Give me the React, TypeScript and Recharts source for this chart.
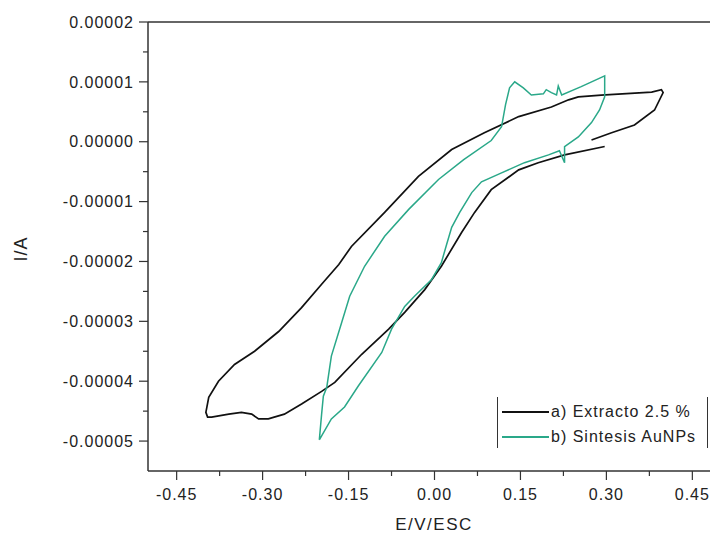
import { LineChart, Line, XAxis, YAxis, ReferenceLine } from "recharts";

// potential (V vs SCE) and current (in units of 1e-5 A), traced in scan order
const extractoE = [
  0.297, 0.227, 0.181, 0.147, 0.099, 0.07, 0.047, 0.012, -0.017, -0.052, -0.08, -0.127, -0.174, -0.197,
  -0.232, -0.262, -0.29, -0.307, -0.319, -0.337, -0.359, -0.389, -0.396, -0.399, -0.394, -0.377, -0.349,
  -0.314, -0.272, -0.232, -0.197, -0.167, -0.145, -0.087, -0.028, 0.03, 0.087, 0.147, 0.204, 0.234, 0.251,
  0.291, 0.379, 0.396, 0.399, 0.384, 0.349, 0.309, 0.274,
];
const extractoI = [
  -0.08, -0.22, -0.35, -0.47, -0.8, -1.18, -1.52, -2.08, -2.47, -2.85, -3.13, -3.55, -4.02, -4.17, -4.38,
  -4.55, -4.63, -4.63, -4.55, -4.52, -4.55, -4.6, -4.6, -4.52, -4.27, -4.0, -3.72, -3.5, -3.17, -2.77, -2.38,
  -2.05, -1.75, -1.18, -0.58, -0.13, 0.15, 0.42, 0.58, 0.7, 0.75, 0.78, 0.83, 0.87, 0.82, 0.53, 0.28, 0.15,
  0.03,
];

const aunpsE = [
  -0.201, -0.197, -0.194, -0.188, -0.18, -0.162, -0.148, -0.122, -0.087, -0.045, 0.007, 0.051, 0.099, 0.117,
  0.124, 0.131, 0.14, 0.155, 0.169, 0.19, 0.195, 0.204, 0.213, 0.216, 0.222, 0.256, 0.297, 0.297, 0.288,
  0.274, 0.251, 0.227, 0.227, 0.218, 0.199, 0.157, 0.117, 0.082, 0.065, 0.044, 0.03, 0.021, 0.012, -0.005,
  -0.035, -0.052, -0.075, -0.092, -0.133, -0.157, -0.18, -0.201,
];
const aunpsI = [
  -4.98, -4.55, -4.25, -4.1, -3.58, -3.02, -2.58, -2.08, -1.58, -1.13, -0.63, -0.3, 0.02, 0.25, 0.62, 0.9,
  1.0, 0.9, 0.78, 0.8, 0.87, 0.82, 0.78, 0.93, 0.78, 0.92, 1.1, 0.75, 0.53, 0.32, 0.08, -0.08, -0.35, -0.15,
  -0.22, -0.35, -0.52, -0.67, -0.85, -1.18, -1.43, -1.72, -2.02, -2.3, -2.58, -2.75, -3.13, -3.52, -4.08,
  -4.43, -4.63, -4.98,
];

const xMajorTicks = [-0.45, -0.3, -0.15, 0, 0.15, 0.3, 0.45];
const xMinorTicks = [-0.375, -0.225, -0.075, 0.075, 0.225, 0.375];
const yMajorTicks = [2e-5, 1e-5, 0, -1e-5, -2e-5, -3e-5, -4e-5, -5e-5];
const yMinorTicks = [1.5e-5, 0.5e-5, -0.5e-5, -1.5e-5, -2.5e-5, -3.5e-5, -4.5e-5];

const seriesNames = ["a) Extracto 2.5 %", "b) Sintesis AuNPs"];
const seriesColors = ["#111111", "#2aa889"];

const extractoData = extractoE.map((e, k) => ({ e, i: extractoI[k] * 1e-5 }));
const aunpsData = aunpsE.map((e, k) => ({ e, i: aunpsI[k] * 1e-5 }));

const FONT = "'Liberation Sans', Arial, sans-serif";
const AXIS = "#333";

const isMajor = (v: number, list: number[]) => list.some((m) => Math.abs(m - v) < 1e-9);

const XTick = (props: any) => {
  const { x, y, payload } = props;
  const major = isMajor(payload.value, xMajorTicks);
  return (
    <g>
      <line x1={x} x2={x} y1={y} y2={y + (major ? 9 : 5)} stroke={AXIS} strokeWidth={1.2} />
      {major && (
        <text x={x} y={y + 23} dy="0.36em" textAnchor="middle" fontFamily={FONT} fontSize={16} fill="#222" letterSpacing={1}>
          {payload.value.toFixed(2)}
        </text>
      )}
    </g>
  );
};

const YTick = (props: any) => {
  const { x, y, payload } = props;
  const major = isMajor(payload.value, yMajorTicks);
  return (
    <g>
      <line x1={x - (major ? 9 : 5)} x2={x} y1={y} y2={y} stroke={AXIS} strokeWidth={1.2} />
      {major && (
        <text x={x - 14} y={y} dy="0.36em" textAnchor="end" fontFamily={FONT} fontSize={16} fill="#222" letterSpacing={1}>
          {payload.value.toFixed(5)}
        </text>
      )}
    </g>
  );
};

const YTitle = () => (
  <text x={21} y={249} transform="rotate(-90 21 249)" dy="0.36em" textAnchor="middle" fontFamily={FONT} fontSize={18} fill="#222" letterSpacing={1}>
    I/A
  </text>
);

const XTitle = () => (
  <text x={434} y={530} textAnchor="middle" fontFamily={FONT} fontSize={17} fill="#222" letterSpacing={1.5}>
    E/V/ESC
  </text>
);

export default function App() {
  return (
    <div style={{ position: "fixed", left: 0, top: 0, width: 710, height: 535, overflow: "hidden", background: "#fff" }}>
      <LineChart width={740} height={535} margin={{ top: 22, right: 19, left: 0, bottom: 0 }}>
        <XAxis
          type="number"
          dataKey="e"
          domain={[-0.5, 0.5]}
          allowDataOverflow
          ticks={[...xMajorTicks, ...xMinorTicks].sort((a, b) => a - b)}
          interval={0}
          tick={<XTick />}
          tickSize={0}
          tickMargin={0}
          height={64}
          axisLine={{ stroke: AXIS, strokeWidth: 1.5 }}
          label={<XTitle />}
        />
        <YAxis
          type="number"
          dataKey="i"
          domain={[-5.5e-5, 2e-5]}
          allowDataOverflow
          ticks={[...yMajorTicks, ...yMinorTicks].sort((a, b) => a - b)}
          interval={0}
          tick={<YTick />}
          tickSize={0}
          tickMargin={0}
          width={148}
          axisLine={{ stroke: AXIS, strokeWidth: 1.5 }}
          label={<YTitle />}
        />
        <ReferenceLine y={2e-5} stroke={AXIS} strokeWidth={1.5} />
        <Line
          data={extractoData}
          dataKey="i"
          type="linear"
          stroke={seriesColors[0]}
          strokeWidth={1.7}
          dot={false}
          isAnimationActive={false}
        />
        <Line
          data={aunpsData}
          dataKey="i"
          type="linear"
          stroke={seriesColors[1]}
          strokeWidth={1.5}
          dot={false}
          isAnimationActive={false}
        />
      </LineChart>

      <div
        style={{
          position: "absolute",
          left: 497,
          top: 397,
          width: 211,
          height: 51,
          boxSizing: "border-box",
          borderLeft: `1.5px solid ${AXIS}`,
          borderRight: `1.5px solid ${AXIS}`,
          fontFamily: FONT,
          fontSize: 16,
          letterSpacing: 1,
          color: "#222",
        }}
      >
        {seriesNames.map((name, k) => (
          <div key={name} style={{ position: "absolute", left: 0, top: 6 + k * 25, height: 18, width: 205 }}>
            <div style={{ position: "absolute", left: 4, top: 8, width: 47, height: 1.5, background: seriesColors[k] }} />
            <div style={{ position: "absolute", left: 53, top: 0, lineHeight: "18px", whiteSpace: "nowrap" }}>{name}</div>
          </div>
        ))}
      </div>
    </div>
  );
}
